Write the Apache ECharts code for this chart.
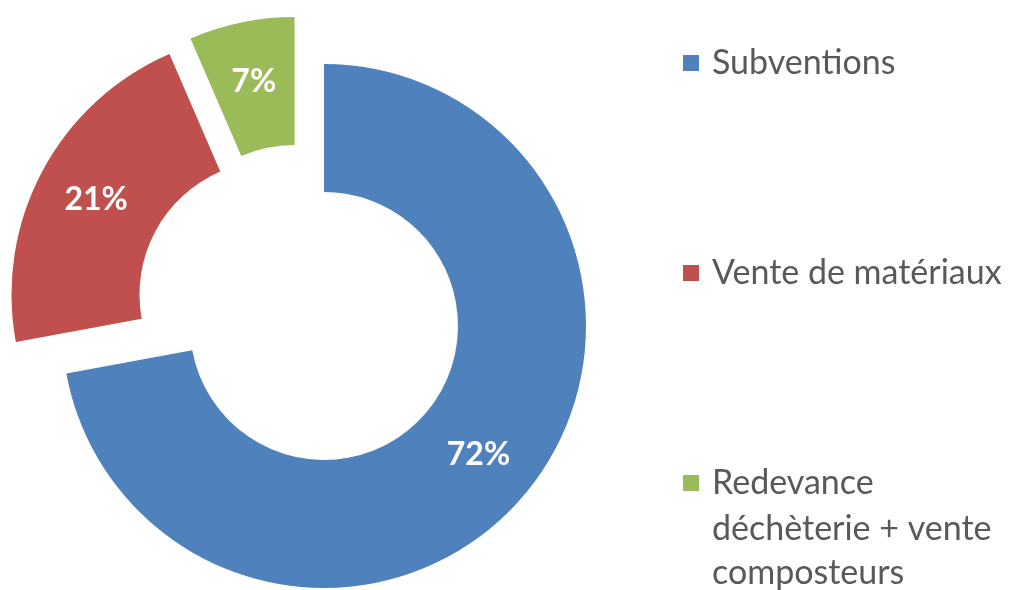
<!DOCTYPE html>
<html><head><meta charset="utf-8">
<script src="https://cdn.jsdelivr.net/npm/echarts@6/dist/echarts.min.js"></script>
<style>html,body{margin:0;padding:0;background:#fff}#c{width:1014px;height:590px}</style>
</head><body><div id="c"></div>
<script>
const categories = ['Subventions', 'Vente de matériaux', 'Redevance déchèterie + vente composteurs'];
const values = [72.1, 21.4, 6.5];
const colors = ['#4F81BD', '#C0504D', '#9BBB59'];
const legendFirstLines = ['Subventions', 'Vente de matériaux', 'Redevance'];
const legendExtraLines = ['déchèterie + vente', 'composteurs'];
const sliceCenters = [[324, 326], [273.5, 294.5], [294.5, 279]];

const series = categories.map((_, k) => ({
  type: 'pie',
  radius: [134, 262],
  center: sliceCenters[k],
  startAngle: 90,
  clockwise: true,
  avoidLabelOverlap: false,
  silent: true,
  animation: false,
  padAngle: 0,
  labelLine: { show: false },
  emphasis: { disabled: true },
  itemStyle: { borderWidth: 0, borderColor: 'rgba(0,0,0,0)' },
  label: {
    position: 'inside', color: '#fff', fontFamily: 'Lato', fontWeight: 'bold', fontSize: 32,
    formatter: p => Math.round(p.percent) + '%'
  },
  data: categories.map((name, i) => ({
    name, value: values[i],
    itemStyle: { color: i === k ? colors[i] : 'rgba(0,0,0,0)' },
    label: { show: i === k }
  }))
}));

const chart = echarts.init(document.getElementById('c'), null, { renderer: 'canvas' });
chart.setOption({
  backgroundColor: '#fff',
  animation: false,
  legend: {
    orient: 'vertical', left: 683, top: 43, padding: 0, itemGap: 170,
    itemWidth: 16, itemHeight: 16, icon: 'rect', selectedMode: false,
    data: categories.map((name, i) => ({ name, itemStyle: { color: colors[i] } })),
    formatter: name => legendFirstLines[categories.indexOf(name)],
    textStyle: { fontFamily: 'Lato', fontSize: 34, color: '#595959', lineHeight: 40, padding: [0, 0, 0, 8] }
  },
  graphic: [{
    type: 'text', left: 712, top: 507,
    style: { text: legendExtraLines.join('\n'), fontFamily: 'Lato', fontSize: 34, fill: '#595959', lineHeight: 44 }
  }],
  series
});
</script></body></html>
